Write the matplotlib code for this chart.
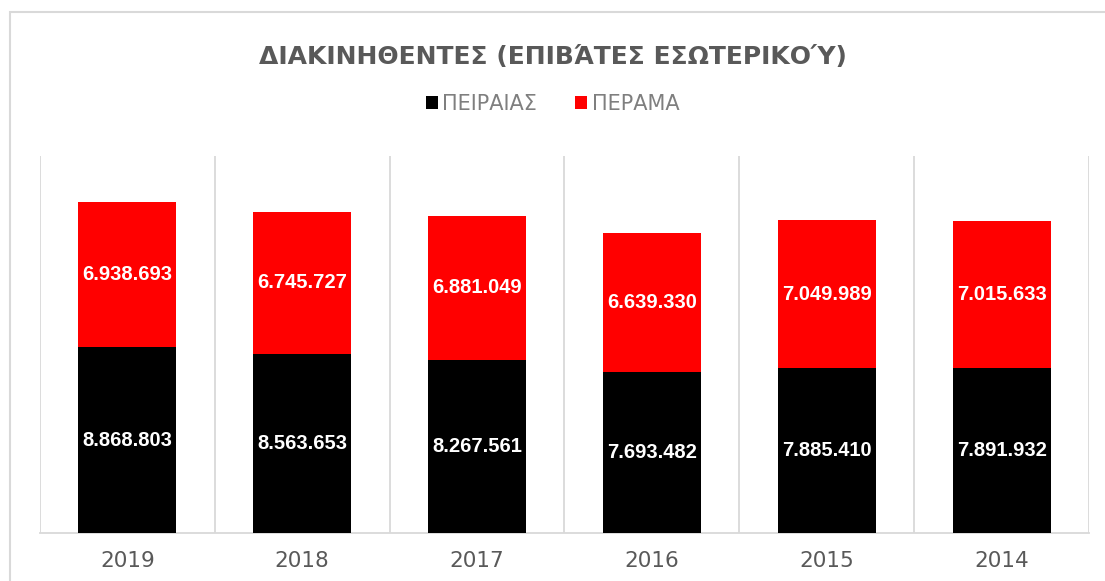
import numpy as np
import matplotlib
matplotlib.use("Agg")
import matplotlib.pyplot as plt
from matplotlib.patches import Rectangle

# data
years = ['2019', '2018', '2017', '2016', '2015', '2014']
peiraias = [8868803, 8563653, 8267561, 7693482, 7885410, 7891932]
perama = [6938693, 6745727, 6881049, 6639330, 7049989, 7015633]
series_names = ['ΠΕΙΡΑΙΑΣ', 'ΠΕΡΑΜΑ']

def fmt(v):
    return '{:,}'.format(v).replace(',', '.')

plt.rcParams['font.family'] = ['DejaVu Sans']

fig = plt.figure(figsize=(11.05, 5.81), dpi=100)
# outer chart frame
fig.patches.append(Rectangle((10/1105, -0.1), 1.2, 1 - 12/581 + 0.1,
                             transform=fig.transFigure, fill=False,
                             edgecolor='#d9d9d9', linewidth=1.5))

ax = fig.add_axes([40/1105, 48/581, (1089-40)/1105, (533-156)/581])
x = np.arange(len(years))
w = 0.56
b1 = ax.bar(x, peiraias, w, color='black', label=series_names[0], zorder=3)
b2 = ax.bar(x, perama, w, bottom=peiraias, color='#ff0000', label=series_names[1], zorder=3)

for i in range(len(years)):
    ax.text(x[i], peiraias[i] / 2, fmt(peiraias[i]), ha='center', va='center',
            color='white', fontsize=14.5, fontweight='bold', family='Liberation Sans', zorder=4)
    ax.text(x[i], peiraias[i] + perama[i] / 2, fmt(perama[i]), ha='center', va='center',
            color='white', fontsize=14.5, fontweight='bold', family='Liberation Sans', zorder=4)

for g in np.arange(-0.5, len(years), 1):
    ax.axvline(g, color='#d9d9d9', linewidth=1.3, zorder=1)

ax.set_xlim(-0.5, len(years) - 0.5)
ax.set_ylim(0, 18000000)
ax.set_yticks([])
ax.set_xticks(x)
ax.set_xticklabels(years, fontsize=15.5, color='#595959')
ax.tick_params(axis='x', length=0, pad=13)
for s in ['top', 'left', 'right']:
    ax.spines[s].set_visible(False)
ax.spines['bottom'].set_color('#d9d9d9')
ax.spines['bottom'].set_linewidth(1.3)

fig.text(0.5, 1 - 57/581, 'ΔΙΑΚΙΝΗΘΕΝΤΕΣ (ΕΠΙΒΆΤΕΣ ΕΣΩΤΕΡΙΚΟΎ)', ha='center', va='center',
         fontsize=18, fontweight='bold', color='#595959')

leg = fig.legend(handles=[b1, b2], loc='center', bbox_to_anchor=(0.5, 1 - 104/581),
                 ncol=2, frameon=False, fontsize=15, handlelength=0.6, handleheight=0.6,
                 handletextpad=0.2, columnspacing=1.8)
for t in leg.get_texts():
    t.set_color('#7f7f7f')

fig.savefig('out.png', dpi=100)
